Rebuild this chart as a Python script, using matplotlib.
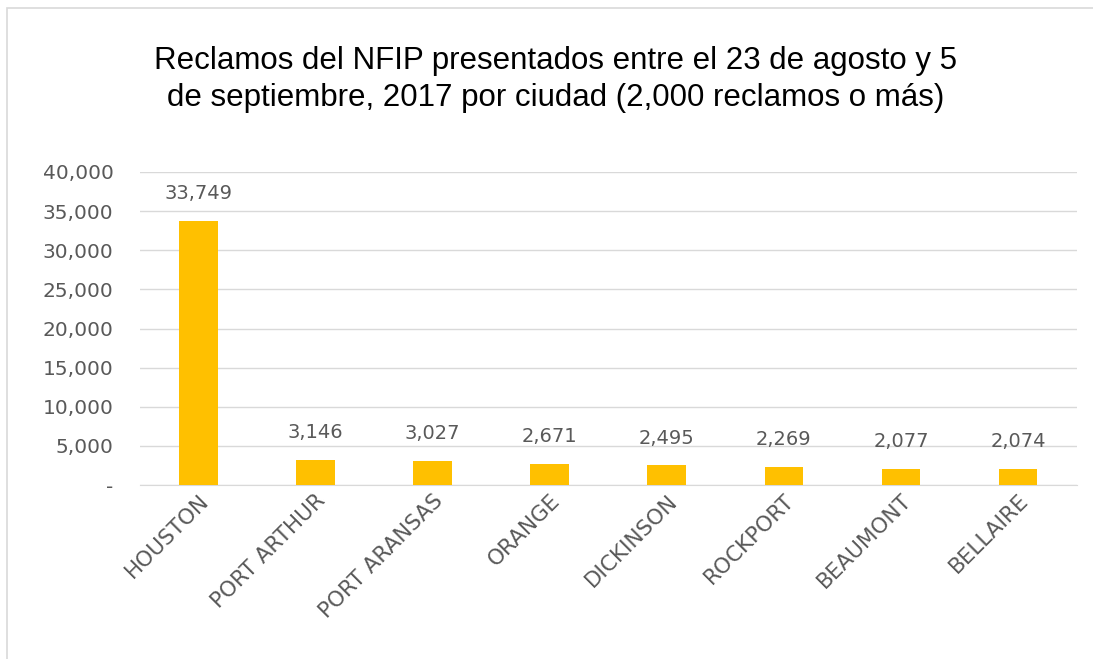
import matplotlib
matplotlib.use("Agg")
import matplotlib.pyplot as plt
from matplotlib.patches import Rectangle

cities = ["HOUSTON", "PORT ARTHUR", "PORT ARANSAS", "ORANGE", "DICKINSON",
          "ROCKPORT", "BEAUMONT", "BELLAIRE"]
claims = [33749, 3146, 3027, 2671, 2495, 2269, 2077, 2074]
yticks = [0, 5000, 10000, 15000, 20000, 25000, 30000, 35000, 40000]
ytick_labels = ["-", "5,000", "10,000", "15,000", "20,000", "25,000", "30,000", "35,000", "40,000"]
title = "Reclamos del NFIP presentados entre el 23 de agosto y 5\nde septiembre, 2017 por ciudad (2,000 reclamos o más)"

plt.rcParams['font.family'] = ['DejaVu Sans']
gray = "#595959"

fig = plt.figure(figsize=(10.93, 6.59), dpi=100)
ax = fig.add_axes([0.128, 0.264, 0.857, 0.475])

x = list(range(len(cities)))
ax.bar(x, claims, width=0.33, color="#FFC000", zorder=3)
for xi, v in zip(x, claims):
    ax.text(xi, v + 2300, f"{v:,}", ha="center", va="bottom", fontsize=14, color=gray)

ax.set_xlim(-0.5, len(cities) - 0.5)
ax.set_ylim(0, 40000)
ax.set_yticks(yticks)
ax.set_yticklabels(ytick_labels, fontsize=14.5, color=gray)
ax.set_xticks(x)
ax.set_xticklabels(cities, rotation=45, ha="right", rotation_mode="anchor",
                   fontsize=15.5, color=gray)
ax.tick_params(axis="both", length=0)
ax.tick_params(axis="y", pad=19)
ax.tick_params(axis="x", pad=4)
ax.grid(axis="y", color="#D9D9D9", linewidth=1, zorder=0)
for s in ["top", "right", "left"]:
    ax.spines[s].set_visible(False)
ax.spines["bottom"].set_color("#D9D9D9")

fig.text(0.508, 0.93, title, ha="center", va="top", fontsize=22.5,
         family=["Liberation Sans", "DejaVu Sans"], color="black", linespacing=1.28)

fig.patches.append(Rectangle((0.0064, -0.05), 1.1, 1.038, transform=fig.transFigure,
                             fill=False, edgecolor="#D9D9D9", linewidth=1.2))

fig.savefig("out.png", dpi=100)
